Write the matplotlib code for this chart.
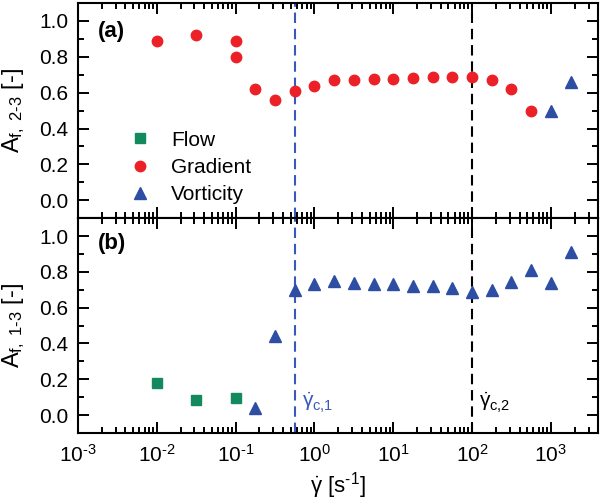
import numpy as np
import matplotlib
matplotlib.use('Agg')
import matplotlib.pyplot as plt
from matplotlib.ticker import LogLocator, MultipleLocator, FixedLocator, FixedFormatter, NullFormatter

plt.rcParams['font.family'] = ['Liberation Sans', 'DejaVu Sans']
plt.rcParams['mathtext.fontset'] = 'custom'
plt.rcParams['mathtext.rm'] = 'Liberation Sans'
plt.rcParams['mathtext.it'] = 'Liberation Sans'
plt.rcParams['mathtext.bf'] = 'Liberation Sans:bold'
plt.rcParams['mathtext.default'] = 'regular'

# panel (a): A_f,2-3
grad_x_a = [0.01, 0.0316, 0.1, 0.1, 0.178, 0.316, 0.562, 1.0, 1.78, 3.16, 5.62,
            10, 17.8, 31.6, 56.2, 100, 178, 316, 562]
grad_y_a = [0.89, 0.92, 0.89, 0.80, 0.62, 0.56, 0.61, 0.64, 0.67, 0.67, 0.675,
            0.675, 0.68, 0.685, 0.69, 0.69, 0.67, 0.62, 0.50]
vort_x_a = [1000, 1778]
vort_y_a = [0.50, 0.66]

# panel (b): A_f,1-3
flow_x_b = [0.01, 0.0316, 0.1]
flow_y_b = [0.18, 0.085, 0.095]
vort_x_b = [0.178, 0.316, 0.562, 1.0, 1.78, 3.16, 5.62, 10, 17.8, 31.6, 56.2,
            100, 178, 316, 562, 1000, 1778]
vort_y_b = [0.04, 0.44, 0.70, 0.73, 0.75, 0.74, 0.735, 0.73, 0.72, 0.72, 0.71,
            0.685, 0.70, 0.745, 0.81, 0.74, 0.91]

x_major = [1e-3, 1e-2, 1e-1, 1e0, 1e1, 1e2, 1e3]
x_labels = [r'$10^{\text{-}3}$', r'$10^{\text{-}2}$', r'$10^{\text{-}1}$',
            r'$10^{0}$', r'$10^{1}$', r'$10^{2}$', r'$10^{3}$']
y_major = [0.0, 0.2, 0.4, 0.6, 0.8, 1.0]

gdot_c1 = 0.56
gdot_c2 = 100

red = '#ec2128'
green = '#138a5e'
blue = '#2e4ea3'
blue_line = '#3a57bd'

fig = plt.figure(figsize=(6, 5.04), dpi=100)
ax1 = fig.add_axes([0.13, 0.567, 0.867, 0.427])
ax2 = fig.add_axes([0.13, 0.141, 0.867, 0.426], sharex=ax1)

ax1.plot([], [], 's', color=green, ms=6.5, label='Flow')
ax1.plot(grad_x_a, grad_y_a, 'o', color=red, ms=7.5, label='Gradient')
ax1.plot(vort_x_a, vort_y_a, '^', color=blue, ms=8, label='Vorticity')

ax2.plot(flow_x_b, flow_y_b, 's', color=green, ms=6.5)
ax2.plot(vort_x_b, vort_y_b, '^', color=blue, ms=8)

for ax in (ax1, ax2):
    ax.axvline(gdot_c1, color=blue_line, ls=(0, (5, 2.8)), lw=1.5, zorder=0)
    ax.axvline(gdot_c2, color='black', ls=(0, (5, 2.8)), lw=1.5, zorder=0)
    ax.set_xscale('log')
    ax.set_xlim(1e-3, 10**3.6)
    ax.set_yticks(y_major)
    ax.yaxis.set_minor_locator(MultipleLocator(0.1))
    ax.xaxis.set_major_locator(FixedLocator(x_major))
    ax.xaxis.set_major_formatter(FixedFormatter(x_labels))
    ax.xaxis.set_minor_locator(LogLocator(base=10, subs=np.arange(2, 10), numticks=20))
    ax.xaxis.set_minor_formatter(NullFormatter())
    ax.tick_params(which='both', direction='in', top=True, right=True,
                   width=1.4, labelsize=15)
    ax.tick_params(which='major', length=8)
    ax.tick_params(which='minor', length=4.5)
    ax.tick_params(axis='y', pad=7)
    ax.tick_params(axis='x', pad=8)
    for s in ax.spines.values():
        s.set_linewidth(1.5)
    ax.set_ylim(-0.1, 1.1)

ax1.tick_params(labelbottom=False)

ax1.set_ylabel(r'A$_{f,\ 2\text{-}3}$ [-]', fontsize=17)
ax2.set_ylabel(r'A$_{f,\ 1\text{-}3}$ [-]', fontsize=17)
ax1.yaxis.set_label_coords(-0.098, 0.5)
ax2.yaxis.set_label_coords(-0.098, 0.5)
ax2.set_xlabel(r'$\dot{\gamma}$ [s$^{\text{-}1}$]', fontsize=16, labelpad=3)

ax1.text(0.038, 0.87, '(a)', transform=ax1.transAxes, fontsize=16,
         fontweight='bold', va='center')
ax2.text(0.038, 0.88, '(b)', transform=ax2.transAxes, fontsize=16,
         fontweight='bold', va='center')

ax2.annotate(r'$\dot{\gamma}_{c{,}1}$', xy=(gdot_c1, 0.04), xytext=(5, 0),
             textcoords='offset points', color=blue_line, fontsize=15,
             va='baseline')
ax2.annotate(r'$\dot{\gamma}_{c{,}2}$', xy=(gdot_c2, 0.04), xytext=(5, 0),
             textcoords='offset points', color='black', fontsize=15,
             va='baseline')

ax1.legend(loc='lower left', bbox_to_anchor=(0.099, 0.065), frameon=False,
           fontsize=15, handlelength=1, handletextpad=1.0, labelspacing=0.4,
           borderpad=0, borderaxespad=0)

fig.savefig('out.png', dpi=100)
